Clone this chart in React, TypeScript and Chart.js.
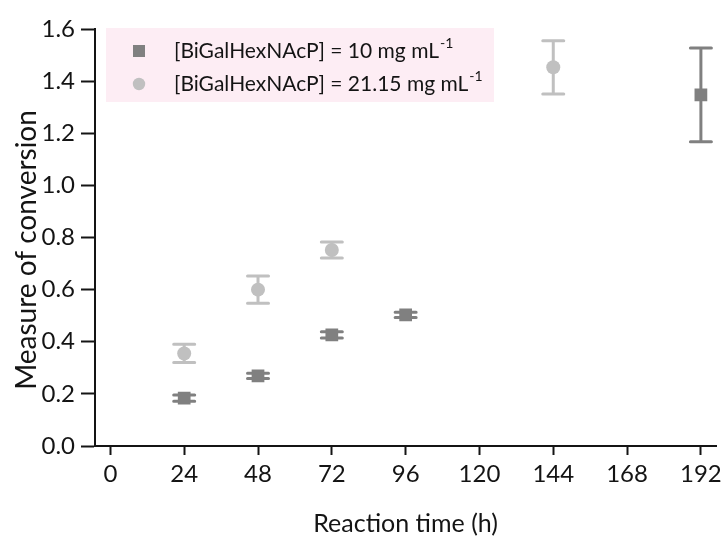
import React, { useEffect, useRef } from 'react';
import { Chart, registerables } from 'chart.js';

Chart.register(...registerables);

const FONT = 'Lato, "Open Sans", sans-serif';

// Axis ticks and titles
const timeTicks = [0, 24, 48, 72, 96, 120, 144, 168, 192];
const conversionTicks = [0, 0.2, 0.4, 0.6, 0.8, 1.0, 1.2, 1.4, 1.6];
const xTitle = 'Reaction time (h)';
const yTitle = 'Measure of conversion';

// [BiGalHexNAcP] = 10 mg mL-1
const lowConcLabel = '[BiGalHexNAcP] = 10 mg mL';
const lowConcTimes = [24, 48, 72, 96, 192];
const lowConcValues = [0.184, 0.269, 0.426, 0.503, 1.347];
const lowConcErrors = [0.012, 0.01, 0.012, 0.01, 0.18];

// [BiGalHexNAcP] = 21.15 mg mL-1
const highConcLabel = '[BiGalHexNAcP] = 21.15 mg mL';
const highConcTimes = [24, 48, 72, 144];
const highConcValues = [0.355, 0.6, 0.752, 1.453];
const highConcErrors = [0.035, 0.052, 0.031, 0.102];

const unitExponent = '-1';

const DARK = '#808080';
const LIGHT = '#c0c0c0';
const INK = '#141414';

const errorBarPlugin = {
  id: 'errorBars',
  beforeDatasetsDraw(chart: any) {
    const { ctx, scales } = chart;
    const xs = scales.x;
    const ys = scales.y;
    chart.data.datasets.forEach((ds: any) => {
      ctx.save();
      ctx.strokeStyle = ds.backgroundColor;
      ctx.lineWidth = 3;
      ctx.lineCap = 'round';
      ds.data.forEach((p: any, j: number) => {
        const e = ds.errors[j];
        const px = xs.getPixelForValue(p.x);
        const top = ys.getPixelForValue(p.y + e);
        const bot = ys.getPixelForValue(p.y - e);
        const half = 10.5;
        ctx.beginPath();
        ctx.moveTo(px, top);
        ctx.lineTo(px, bot);
        ctx.moveTo(px - half, top);
        ctx.lineTo(px + half, top);
        ctx.moveTo(px - half, bot);
        ctx.lineTo(px + half, bot);
        ctx.stroke();
      });
      ctx.restore();
    });
  },
};

const boxedLegendPlugin = {
  id: 'boxedLegend',
  beforeDatasetsDraw(chart: any) {
    const { ctx, chartArea } = chart;
    const left = chartArea.left + 11;
    const top = chartArea.top - 1;
    ctx.save();
    ctx.fillStyle = '#fdedf4';
    ctx.fillRect(left, top, 388, 74);
    chart.data.datasets.forEach((ds: any, i: number) => {
      const cy = top + 23 + i * 33;
      const mx = left + 33;
      ctx.fillStyle = ds.backgroundColor;
      if (ds.pointStyle === 'rect') {
        ctx.fillRect(mx - 6, cy - 6, 12, 12);
      } else {
        ctx.beginPath();
        ctx.arc(mx, cy, 6.2, 0, Math.PI * 2);
        ctx.fill();
      }
      ctx.fillStyle = INK;
      ctx.textBaseline = 'middle';
      ctx.textAlign = 'left';
      ctx.font = `21px ${FONT}`;
      const tx = left + 68;
      ctx.fillText(ds.label, tx, cy);
      const w = ctx.measureText(ds.label).width;
      ctx.font = `14px ${FONT}`;
      ctx.fillText(unitExponent, tx + w + 1, cy - 8);
    });
    ctx.restore();
  },
};

// Vertical axis title, placed a little below the plot's vertical centre
const yTitlePlugin = {
  id: 'yTitle',
  afterDraw(chart: any) {
    const { ctx } = chart;
    ctx.save();
    ctx.translate(27, 250);
    ctx.rotate(-Math.PI / 2);
    ctx.fillStyle = INK;
    ctx.font = `28px ${FONT}`;
    ctx.textAlign = 'center';
    ctx.textBaseline = 'middle';
    ctx.fillText(yTitle, 0, 0);
    ctx.restore();
  },
};

export default function App() {
  const canvasRef = useRef<HTMLCanvasElement>(null);

  useEffect(() => {
    const canvas = canvasRef.current;
    if (!canvas) return;
    const chart = new Chart(canvas, {
      type: 'scatter',
      data: {
        datasets: [
          {
            label: lowConcLabel,
            data: lowConcTimes.map((t, i) => ({ x: t, y: lowConcValues[i] })),
            errors: lowConcErrors,
            backgroundColor: DARK,
            borderColor: DARK,
            borderWidth: 0,
            pointStyle: 'rect',
            pointRadius: 9,
          } as any,
          {
            label: highConcLabel,
            data: highConcTimes.map((t, i) => ({ x: t, y: highConcValues[i] })),
            errors: highConcErrors,
            backgroundColor: LIGHT,
            borderColor: LIGHT,
            borderWidth: 0,
            pointStyle: 'circle',
            pointRadius: 7,
          } as any,
        ],
      },
      options: {
        responsive: false,
        animation: false,
        layout: { padding: { top: 29, right: 7, bottom: 0, left: 0 } },
        plugins: {
          legend: { display: false },
          tooltip: { enabled: false },
        },
        scales: {
          x: {
            type: 'linear',
            min: -5,
            max: 197,
            afterBuildTicks: (s: any) => {
              s.ticks = timeTicks.map((v) => ({ value: v }));
            },
            afterFit: (s: any) => {
              s.height = 90;
            },
            ticks: {
              color: INK,
              font: { family: FONT, size: 24 },
              padding: 5,
              maxRotation: 0,
              autoSkip: false,
            },
            grid: {
              drawOnChartArea: false,
              drawTicks: true,
              tickLength: 9,
              tickWidth: 2,
              tickColor: INK,
            },
            border: { display: true, color: INK, width: 2 },
            title: {
              display: true,
              text: xTitle,
              color: INK,
              font: { family: FONT, size: 25, lineHeight: 1 },
              padding: { top: 4, bottom: 0 },
            },
          },
          y: {
            type: 'linear',
            min: 0,
            max: 1.6,
            afterBuildTicks: (s: any) => {
              s.ticks = conversionTicks.map((v) => ({ value: v }));
            },
            afterFit: (s: any) => {
              s.width = 95;
            },
            ticks: {
              color: INK,
              font: { family: FONT, size: 24 },
              padding: 6,
              callback: (v: any) => Number(v).toFixed(1),
            },
            grid: {
              drawOnChartArea: false,
              drawTicks: true,
              tickLength: 14,
              tickWidth: 2,
              tickColor: INK,
            },
            border: { display: true, color: INK, width: 2 },
          },
        },
      } as any,
      plugins: [errorBarPlugin, boxedLegendPlugin, yTitlePlugin],
    });
    return () => chart.destroy();
  }, []);

  return (
    <div style={{ position: 'absolute', left: 0, top: 0, width: 727, height: 536, background: '#fff' }}>
      <canvas ref={canvasRef} width={727} height={536} style={{ display: 'block' }} />
    </div>
  );
}
